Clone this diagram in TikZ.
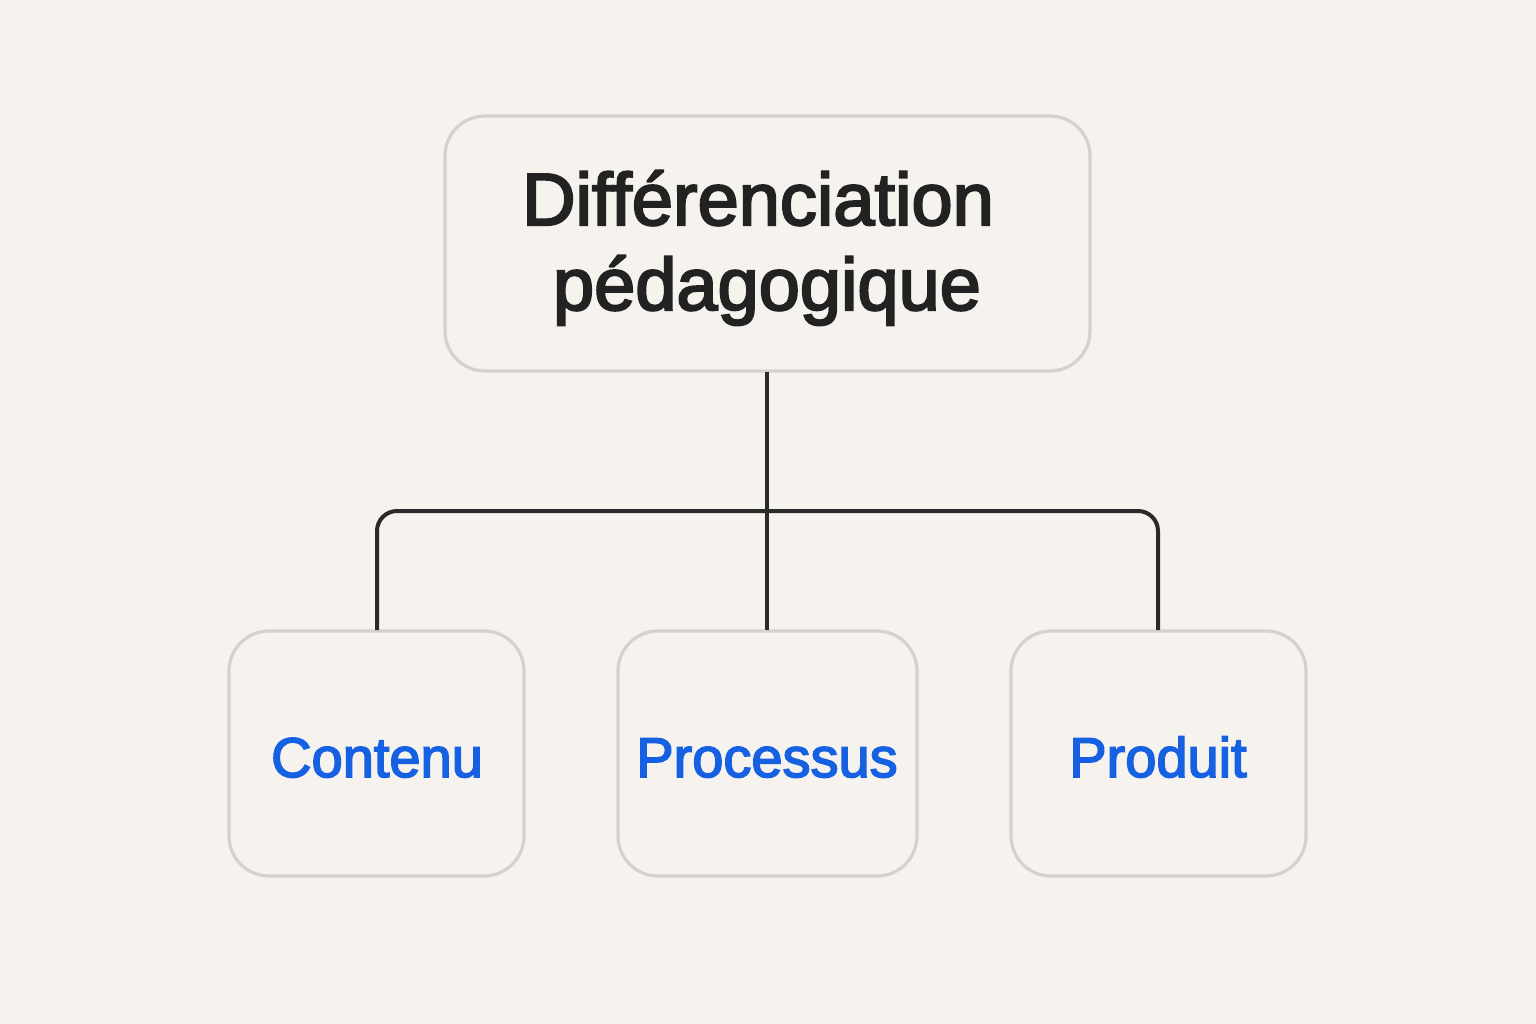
\documentclass[tikz,border=0pt]{standalone}
\usepackage{fontspec}
\setmainfont{Liberation Sans}
\newcommand\embold[2]{\special{pdf:literal direct 2 Tr #1 w}#2\special{pdf:literal direct 0 Tr}}
\definecolor{bg}{HTML}{F6F3EE}
\definecolor{boxline}{HTML}{D5D2CD}
\definecolor{wire}{HTML}{2A2A2A}
\definecolor{leafblue}{HTML}{1661E2}
\definecolor{titlegray}{HTML}{222222}
\begin{document}
\begin{tikzpicture}[x=0.75pt,y=-0.75pt,
  card/.style={draw=boxline,line width=2.4pt,fill=bg,rounded corners=30pt},
  wirestyle/.style={draw=wire,line width=3pt},
  leaftext/.style={font=\fontsize{42}{50}\selectfont,text=leafblue,anchor=base},
  titletext/.style={font=\fontsize{55.5}{64}\selectfont,text=titlegray,anchor=base}]
\fill[bg] (0,0) rectangle (1536,1024);
\useasboundingbox (0,0) rectangle (1536,1024);
% boxes
\path[card] (445,116) rectangle (1090,371);
\path[card] (229,631) rectangle (524,876);
\path[card] (618,631) rectangle (917,876);
\path[card] (1011,631) rectangle (1306,876);
\coordinate (topb) at (767,372);
\coordinate (la) at (377,630);
\coordinate (ma) at (767,630);
\coordinate (ra) at (1158,630);
% connectors
\draw[wirestyle] (topb) -- (ma);
\draw[wirestyle,rounded corners=15pt] (la) -- (377,511) -- (1158,511) -- (ra);
% texts
\node[titletext] (t1) at (758,225) {\embold{1.6}{Différenciation}};
\node[titletext] (t2) at (767,310) {\embold{1.6}{pédagogique}};
\node[leaftext] (c) at (377,777) {\embold{1.2}{Contenu}};
\node[leaftext] (p) at (767,777) {\embold{1.2}{Processus}};
\node[leaftext] (r) at (1158,777) {\embold{1.2}{Produit}};
\end{tikzpicture}
\end{document}
